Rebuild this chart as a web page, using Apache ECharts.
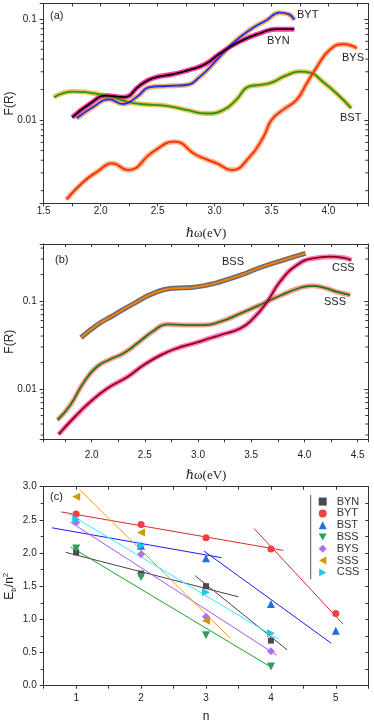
<!DOCTYPE html>
<html>
<head>
<meta charset="utf-8">
<script src="https://cdn.jsdelivr.net/npm/echarts@6.0.0/dist/echarts.min.js"></script>
<style>
html, body { margin: 0; padding: 0; background: #fff; }
#main { width: 374px; height: 722px; }
</style>
</head>
<body>
<div id="main"></div>
<script>
// ---- panel (a): photon energy (eV) vs F(R) ----
var bytE = [1.79, 1.94, 2.07, 2.20, 2.32, 2.43, 2.58, 2.75, 2.87, 3.02, 3.16, 3.31, 3.46, 3.57, 3.65, 3.70];
var bytF = [0.0104, 0.0136, 0.0160, 0.0144, 0.0170, 0.0211, 0.0217, 0.0222, 0.0267, 0.0393, 0.0574, 0.0778, 0.0977, 0.1153, 0.1114, 0.0977];
var bynE = [1.75, 1.91, 2.05, 2.20, 2.35, 2.46, 2.64, 2.78, 2.92, 3.05, 3.22, 3.40, 3.54, 3.70];
var bynF = [0.0106, 0.0146, 0.0174, 0.0168, 0.0222, 0.0259, 0.0285, 0.0313, 0.0358, 0.0457, 0.0596, 0.0721, 0.0791, 0.0791];
var bysE = [1.70, 1.85, 1.97, 2.10, 2.24, 2.46, 2.65, 2.84, 3.02, 3.15, 3.31, 3.43, 3.50, 3.60, 3.72, 3.81, 3.90, 4.01, 4.13, 4.25];
var bysF = [0.00164, 0.00245, 0.00308, 0.00373, 0.00320, 0.00485, 0.00610, 0.00450, 0.00373, 0.00320, 0.00434, 0.00684, 0.0100, 0.0126, 0.0158, 0.0231, 0.0337, 0.0493, 0.0562, 0.0513];
var bstE = [1.59, 1.76, 2.05, 2.23, 2.35, 2.58, 2.75, 2.93, 3.08, 3.19, 3.30, 3.40, 3.50, 3.62, 3.75, 3.84, 3.95, 4.07, 4.20];
var bstF = [0.0168, 0.0191, 0.0174, 0.0152, 0.0144, 0.0138, 0.0126, 0.0116, 0.0126, 0.0158, 0.0214, 0.0222, 0.0234, 0.0273, 0.0301, 0.0294, 0.0239, 0.0184, 0.0131];

// ---- panel (b) ----
var bssE = [1.90, 2.05, 2.21, 2.40, 2.58, 2.77, 2.96, 3.12, 3.21, 3.40, 3.58, 3.80, 4.01];
var bssF = [0.0383, 0.0533, 0.0693, 0.0942, 0.1223, 0.1394, 0.1432, 0.1549, 0.1657, 0.197, 0.239, 0.292, 0.348];
var sssE = [1.68, 1.80, 1.93, 2.05, 2.18, 2.30, 2.43, 2.58, 2.71, 2.90, 3.05, 3.21, 3.40, 3.58, 3.77, 3.96, 4.07, 4.21, 4.30, 4.43];
var sssF = [0.00444, 0.00658, 0.0121, 0.0179, 0.0219, 0.0255, 0.0331, 0.0456, 0.0543, 0.0533, 0.0533, 0.0582, 0.0724, 0.0901, 0.1148, 0.1416, 0.149, 0.139, 0.1276, 0.117];
var cssE = [1.69, 1.83, 1.99, 2.15, 2.34, 2.49, 2.65, 2.80, 2.96, 3.12, 3.21, 3.40, 3.52, 3.65, 3.77, 3.93, 4.08, 4.24, 4.37, 4.44];
var cssF = [0.00305, 0.00465, 0.00718, 0.0102, 0.0138, 0.01875, 0.0243, 0.029, 0.033, 0.038, 0.0411, 0.049, 0.0636, 0.098, 0.1656, 0.2565, 0.305, 0.319, 0.310, 0.292];

// ---- panel (c): Eb/n^2 against n ----
var nVals = [1, 2, 3, 4, 5];
var ebBYN = [2.01, 1.69, 1.50, 0.68, null];
var ebBYT = [2.59, 2.43, 2.23, 2.06, 1.09];
var ebBST = [null, 2.11, 1.92, 1.23, 0.83];
var ebBSS = [2.07, 1.64, 0.76, 0.29, null];
var ebBYS = [2.46, 1.98, 1.04, 0.52, null];
var ebSSS = [2.85, 2.31, 0.98, null, null];
var ebCSS = [2.51, 2.11, 1.41, 0.79, null];
// fitted lines, [n, value] end points
var fitBYN = [[0.84, 2.01], [3.50, 1.34]];
var fitBYN2 = [[2.83, 1.66], [4.25, 0.54]];
var fitBYT = [[0.77, 2.62], [4.19, 2.04]];
var fitBYT2 = [[3.74, 2.37], [5.11, 0.93]];
var fitBST = [[0.63, 2.38], [3.24, 1.93]];
var fitBST2 = [[2.97, 2.03], [4.93, 0.64]];
var fitBSS = [[0.92, 2.09], [4.00, 0.28]];
var fitBYS = [[0.905, 2.47], [4.09, 0.46]];
var fitSSS = [[1.05, 2.96], [3.37, 0.72]];
var fitCSS = [[0.89, 2.59], [4.12, 0.70]];

// log axis minor ticks
var minorA = [0.002, 0.003, 0.004, 0.005, 0.006, 0.007, 0.008, 0.009, 0.02, 0.03, 0.04, 0.05, 0.06, 0.07, 0.08, 0.09];
var minorB = [0.003, 0.004, 0.005, 0.006, 0.007, 0.008, 0.009, 0.02, 0.03, 0.04, 0.05, 0.06, 0.07, 0.08, 0.09, 0.2, 0.3, 0.4];

var FONT = '"Liberation Sans", Arial, sans-serif';
var SERIF = '"Liberation Serif", "DejaVu Serif", serif';
var AXC = '#333';

var myChart = echarts.init(document.getElementById('main'), null, {renderer: 'canvas'});

function pairs(xs, ys) {
	return xs.map(function(x, i) { return [x, ys[i]]; });
}

function logLabel(v) {
	var l = Math.log10(v);
	if(Math.abs(l - Math.round(l)) < 1e-6) return String(+v.toPrecision(2));
	return '';
}

function xAxisPair(g, min, max, interval, margin, name, nameGap, nameFont, hideMin, fmt) {
	var bottom = {
		type: 'value', gridIndex: g, position: 'bottom', min: min, max: max,
		axisLine: {onZero: false, lineStyle: {color: AXC, width: 1}},
		axisTick: {length: 3, lineStyle: {color: AXC}},
		minorTick: {show: true, splitNumber: 2, length: 3, lineStyle: {color: AXC}},
		splitLine: {show: false},
		axisLabel: {fontFamily: FONT, fontSize: 10, color: '#222', margin: margin, showMaxLabel: false, showMinLabel: !hideMin, formatter: fmt},
		name: name, nameLocation: 'middle', nameGap: nameGap,
		nameTextStyle: nameFont
	};
	if(interval) bottom.interval = interval;
	var top = {
		type: 'value', gridIndex: g, position: 'top', min: min, max: max,
		axisLine: {onZero: false, lineStyle: {color: AXC, width: 1}},
		axisTick: {inside: true, length: 3, lineStyle: {color: AXC}},
		minorTick: {show: true, splitNumber: 2, length: 3, lineStyle: {color: AXC}},
		splitLine: {show: false},
		axisLabel: {show: false}
	};
	if(interval) top.interval = interval;
	return [bottom, top];
}

function logYPair(g, min, max, name) {
	return [{
		type: 'log', logBase: 10, gridIndex: g, position: 'left', min: min, max: max,
		axisLine: {onZero: false, lineStyle: {color: AXC, width: 1}},
		axisTick: {length: 4, lineStyle: {color: AXC}},
		splitLine: {show: false},
		axisLabel: {fontFamily: FONT, fontSize: 10, color: '#222', margin: 7, formatter: logLabel},
		name: name, nameLocation: 'middle', nameGap: 28, nameMoveOverlap: false,
		nameTextStyle: {fontFamily: FONT, fontSize: 12, color: '#222'}
	}, {
		type: 'log', logBase: 10, gridIndex: g, position: 'right', min: min, max: max,
		axisLine: {onZero: false, lineStyle: {color: AXC, width: 1}},
		axisTick: {inside: true, length: 4, lineStyle: {color: AXC}},
		splitLine: {show: false},
		axisLabel: {show: false}
	}];
}

// short ticks at 2..9 of each decade, drawn through the axis scale
function minorTicks(xi, yi, vals, xmin, xmax) {
	return {
		type: 'custom', xAxisIndex: xi, yAxisIndex: yi, clip: false, silent: true, z: 10,
		data: vals.map(function(v) { return [xmin, v]; }),
		renderItem: function(params, api) {
			var l = api.coord([xmin, api.value(1)]);
			var r = api.coord([xmax, api.value(1)]);
			return {type: 'group', children: [
				{type: 'line', shape: {x1: l[0] - 3, y1: l[1], x2: l[0], y2: l[1]}, style: {stroke: AXC, lineWidth: 1}},
				{type: 'line', shape: {x1: r[0] - 3, y1: r[1], x2: r[0], y2: r[1]}, style: {stroke: AXC, lineWidth: 1}}
			]};
		}
	};
}

function curve(xi, yi, E, F, lineColor, bandColor) {
	var d = pairs(E, F);
	return [{
		type: 'line', xAxisIndex: xi, yAxisIndex: yi, data: d, smooth: 0.5, symbol: 'none', silent: true,
		lineStyle: {color: bandColor, width: 5, opacity: 0.85}, z: 2
	}, {
		type: 'line', xAxisIndex: xi, yAxisIndex: yi, data: d, smooth: 0.5, symbol: 'none', silent: true,
		lineStyle: {color: lineColor, width: 1.8}, z: 3
	}];
}

function fitLine(d, color) {
	return {type: 'line', xAxisIndex: 4, yAxisIndex: 4, data: d, symbol: 'none', silent: true,
		lineStyle: {color: color, width: 1}, z: 2};
}

function pts(name, vals, symbol, size, color) {
	return {type: 'scatter', name: name, xAxisIndex: 4, yAxisIndex: 4,
		data: pairs(nVals, vals).filter(function(p) { return p[1] != null; }),
		symbol: symbol, symbolSize: size, itemStyle: {color: color, opacity: 1}, z: 5};
}

var oneDec = function(v) { return v.toFixed(1); };

var xAxes = []
	.concat(xAxisPair(0, 1.5, 4.35, 0.5, 3, '\u210F\u03C9(eV)', 24, {fontFamily: SERIF, fontSize: 13, color: '#222'}, false, oneDec))
	.concat(xAxisPair(1, 1.55, 4.6, null, 11, '\u210F\u03C9(eV)', 30, {fontFamily: SERIF, fontSize: 13, color: '#222'}, true, oneDec))
	.concat(xAxisPair(2, 0.5, 5.5, null, 8, 'n', 25, {fontFamily: FONT, fontSize: 12, color: '#222'}, true, null));

var yAxes = []
	.concat(logYPair(0, 0.0015, 0.142, 'F(R)'))
	.concat(logYPair(1, 0.00268, 0.445, 'F(R)'))
	.concat([{
		type: 'value', gridIndex: 2, position: 'left', min: 0, max: 3, interval: 0.5,
		axisLine: {onZero: false, lineStyle: {color: AXC, width: 1}},
		axisTick: {length: 4, lineStyle: {color: AXC}},
		minorTick: {show: true, splitNumber: 2, length: 3, lineStyle: {color: AXC}},
		splitLine: {show: false},
		axisLabel: {fontFamily: FONT, fontSize: 10, color: '#222', margin: 7, formatter: oneDec},
		name: '{e|E}{s|b}{e|/n}{p|2}', nameLocation: 'middle', nameGap: 26, nameMoveOverlap: false,
		nameTextStyle: {rich: {
			e: {fontFamily: FONT, fontSize: 12, color: '#222', lineHeight: 16},
			s: {fontFamily: FONT, fontSize: 8, color: '#222', verticalAlign: 'bottom', lineHeight: 8},
			p: {fontFamily: FONT, fontSize: 8, color: '#222', verticalAlign: 'top', lineHeight: 8}
		}}
	}, {
		type: 'value', gridIndex: 2, position: 'right', min: 0, max: 3, interval: 0.5,
		axisLine: {onZero: false, lineStyle: {color: AXC, width: 1}},
		axisTick: {inside: true, length: 3, lineStyle: {color: AXC}},
		minorTick: {show: true, splitNumber: 2, length: 3, lineStyle: {color: AXC}},
		splitLine: {show: false},
		axisLabel: {show: false}
	}]);

var series = []
	.concat(curve(0, 0, bstE, bstF, '#1f9a10', '#e8b840'))
	.concat(curve(0, 0, bysE, bysF, '#ff2a10', '#f2a060'))
	.concat(curve(0, 0, bytE, bytF, '#1030ff', '#f2a050'))
	.concat(curve(0, 0, bynE, bynF, '#000000', '#ff1493'))
	.concat(curve(2, 2, bssE, bssF, '#ff8000', '#555555'))
	.concat(curve(2, 2, sssE, sssF, '#1a7a10', '#ff8a80'))
	.concat(curve(2, 2, cssE, cssF, '#8b0010', '#ff5fb0'))
	.concat([
		minorTicks(0, 0, minorA, 1.5, 4.35),
		minorTicks(2, 2, minorB, 1.55, 4.6),
		fitLine(fitBYN, '#444444'),
		fitLine(fitBYN2, '#444444'),
		fitLine(fitBYT, '#e02828'),
		fitLine(fitBYT2, '#e02828'),
		fitLine(fitBST, '#1a1aff'),
		fitLine(fitBST2, '#1a1aff'),
		fitLine(fitBSS, '#22a022'),
		fitLine(fitBYS, '#a855f7'),
		fitLine(fitSSS, '#f0a020'),
		fitLine(fitCSS, '#33eeff'),
		pts('BYN', ebBYN, 'rect', 6, '#4a4a4a'),
		pts('BYT', ebBYT, 'circle', 7, '#f04040'),
		pts('BST', ebBST, 'triangle', 8, '#2070e0'),
		pts('BSS', ebBSS, 'path://M0,0L10,0L5,9Z', 8, '#2aa060'),
		pts('BYS', ebBYS, 'diamond', 8, '#b070ef'),
		pts('SSS', ebSSS, 'path://M9,0L9,10L0,5Z', 8, '#cc9900'),
		pts('CSS', ebCSS, 'path://M0,0L0,10L9,5Z', 8, '#20c8e8')
	]);

function label(text, x, y) {
	return {type: 'text', x: x, y: y, silent: true,
		style: {text: text, fill: '#222', font: '11px ' + FONT, verticalAlign: 'middle'}};
}

var option = {
	backgroundColor: '#fff',
	animation: false,
	grid: [
		{left: 43.7, top: 3.5, width: 324.6, height: 199.8, outerBoundsMode: 'none', containLabel: false},
		{left: 43.7, top: 244, width: 324.6, height: 195.3, outerBoundsMode: 'none', containLabel: false},
		{left: 43.7, top: 486.7, width: 324.6, height: 199, outerBoundsMode: 'none', containLabel: false}
	],
	xAxis: xAxes,
	yAxis: yAxes,
	legend: {
		data: ['BYN', 'BYT', 'BST', 'BSS', 'BYS', 'SSS', 'CSS'],
		orient: 'vertical', left: 318.7, top: 495.7, itemWidth: 8, itemHeight: 8, itemGap: 0,
		selectedMode: false, padding: 0,
		textStyle: {fontFamily: FONT, fontSize: 11, color: '#333', lineHeight: 11.8, padding: [0, 0, 0, 5]}
	},
	graphic: [
		label('(a)', 50, 16),
		label('BYT', 297, 15),
		label('BYN', 267, 41),
		label('BYS', 342, 58),
		label('BST', 340, 118),
		label('(b)', 55, 260),
		label('BSS', 222, 262),
		label('CSS', 332, 268),
		label('SSS', 324, 302),
		label('(c)', 50, 497),
		{type: 'line', silent: true, shape: {x1: 310.7, y1: 495, x2: 310.7, y2: 579.3}, style: {stroke: '#555', lineWidth: 1}}
	],
	series: series
};

myChart.setOption(option);
</script>
</body>
</html>
